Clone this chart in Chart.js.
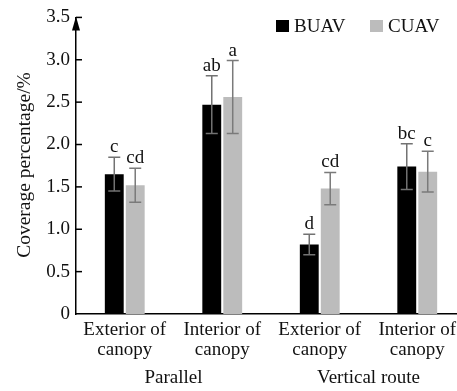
<!DOCTYPE html>
<html><head><meta charset="utf-8">
<script src="https://cdn.jsdelivr.net/npm/chart.js@4"></script>
<style>html,body{margin:0;padding:0;overflow:hidden;background:#fff}#wrap{width:470px;height:391px}</style>
</head><body><div id="wrap"><canvas id="c" width="470" height="391"></canvas></div>
<script>
const categories = [['Exterior of','canopy'],['Interior of','canopy'],['Exterior of','canopy'],['Interior of','canopy']];
const groups = ['Parallel','Vertical route'];
const seriesNames = ['BUAV','CUAV'];
const buav = [1.65, 2.47, 0.82, 1.74];
const cuav = [1.52, 2.56, 1.48, 1.68];
const buavErr = [0.20, 0.34, 0.12, 0.27];
const cuavErr = [0.20, 0.43, 0.19, 0.24];
const buavLetters = ['c','ab','d','bc'];
const cuavLetters = ['cd','a','cd','c'];
const yTicks = [0,0.5,1.0,1.5,2.0,2.5,3.0,3.5];
const yTitle = 'Coverage percentage/%';

const FONT = '"Liberation Serif", "Times New Roman", serif';
const errs = [buavErr, cuavErr];
const letters = [buavLetters, cuavLetters];
const errColors = ['#727272', '#7a7a7a'];

const plugin = {
  id: 'extras',
  afterDatasetsDraw(chart) {
    const ctx = chart.ctx;
    const y = chart.scales.y, x = chart.scales.x;
    const ca = chart.chartArea;
    ctx.save();
    chart.data.datasets.forEach((ds, di) => {
      const meta = chart.getDatasetMeta(di);
      meta.data.forEach((bar, i) => {
        const v = ds.data[i], e = errs[di][i];
        const top = y.getPixelForValue(v + e), bot = y.getPixelForValue(v - e);
        ctx.strokeStyle = errColors[di];
        ctx.lineWidth = 1.5;
        ctx.beginPath();
        ctx.moveTo(bar.x, top); ctx.lineTo(bar.x, bot);
        ctx.moveTo(bar.x - 6, top); ctx.lineTo(bar.x + 6, top);
        ctx.moveTo(bar.x - 6, bot); ctx.lineTo(bar.x + 6, bot);
        ctx.stroke();
        ctx.fillStyle = '#111';
        ctx.font = '19px ' + FONT;
        ctx.textAlign = 'center';
        ctx.textBaseline = 'alphabetic';
        ctx.fillText(letters[di][i], bar.x, top - 5);
      });
    });
    ctx.strokeStyle = '#000';
    ctx.lineWidth = 1.5;
    yTicks.forEach(t => {
      if (t === 0) return;
      const py = y.getPixelForValue(t);
      ctx.beginPath(); ctx.moveTo(ca.left, py); ctx.lineTo(ca.left + 6, py); ctx.stroke();
    });
    ctx.fillStyle = '#000';
    ctx.beginPath();
    ctx.moveTo(ca.left, ca.top - 1);
    ctx.lineTo(ca.left - 4, ca.top + 13);
    ctx.lineTo(ca.left + 4, ca.top + 13);
    ctx.closePath(); ctx.fill();
    ctx.save();
    ctx.translate(25, 165);
    ctx.rotate(-Math.PI / 2);
    ctx.font = '19.5px ' + FONT;
    ctx.fillStyle = '#111';
    ctx.textAlign = 'center';
    ctx.textBaseline = 'middle';
    ctx.fillText(yTitle, 0, 0);
    ctx.restore();
    ctx.font = '19px ' + FONT;
    ctx.fillStyle = '#111';
    ctx.textAlign = 'center';
    ctx.textBaseline = 'middle';
    groups.forEach((g, gi) => {
      const cx = (x.getPixelForValue(gi * 2) + x.getPixelForValue(gi * 2 + 1)) / 2;
      ctx.fillText(g, cx, 378);
    });
    const leg = [{x: 276, t: seriesNames[0], c: '#000'}, {x: 370, t: seriesNames[1], c: '#bcbcbc'}];
    ctx.textAlign = 'left';
    ctx.font = '19px ' + FONT;
    leg.forEach(l => {
      ctx.fillStyle = l.c;
      ctx.fillRect(l.x, 20, 13, 12);
      ctx.fillStyle = '#111';
      ctx.fillText(l.t, l.x + 18, 27);
    });
    ctx.restore();
  }
};

new Chart(document.getElementById('c'), {
  type: 'bar',
  data: {
    labels: categories,
    datasets: [
      {label: seriesNames[0], data: buav, backgroundColor: '#000', barPercentage: 0.9, categoryPercentage: 0.43},
      {label: seriesNames[1], data: cuav, backgroundColor: '#bcbcbc', barPercentage: 0.9, categoryPercentage: 0.43}
    ]
  },
  options: {
    responsive: false,
    animation: false,
    devicePixelRatio: 1,
    layout: {padding: {top: 15, right: 4, left: 0, bottom: 0}},
    plugins: {legend: {display: false}, tooltip: {enabled: false}},
    scales: {
      x: {
        grid: {display: false, drawTicks: false},
        border: {color: '#000', width: 1.5},
        ticks: {color: '#111', font: {family: FONT, size: 19, lineHeight: 1.05}, padding: 6, maxRotation: 0, autoSkip: false},
        afterFit(s) { s.height = 77; }
      },
      y: {
        min: 0, max: 3.5,
        grid: {display: false, drawTicks: false},
        border: {color: '#000', width: 1.5},
        afterBuildTicks(s) { s.ticks = yTicks.map(v => ({value: v})); },
        ticks: {color: '#111', font: {family: FONT, size: 19}, padding: 6,
          callback: v => v === 0 ? '0' : v.toFixed(1)},
        afterFit(s) { s.width = 76; }
      }
    }
  },
  plugins: [plugin]
});
</script></body></html>
